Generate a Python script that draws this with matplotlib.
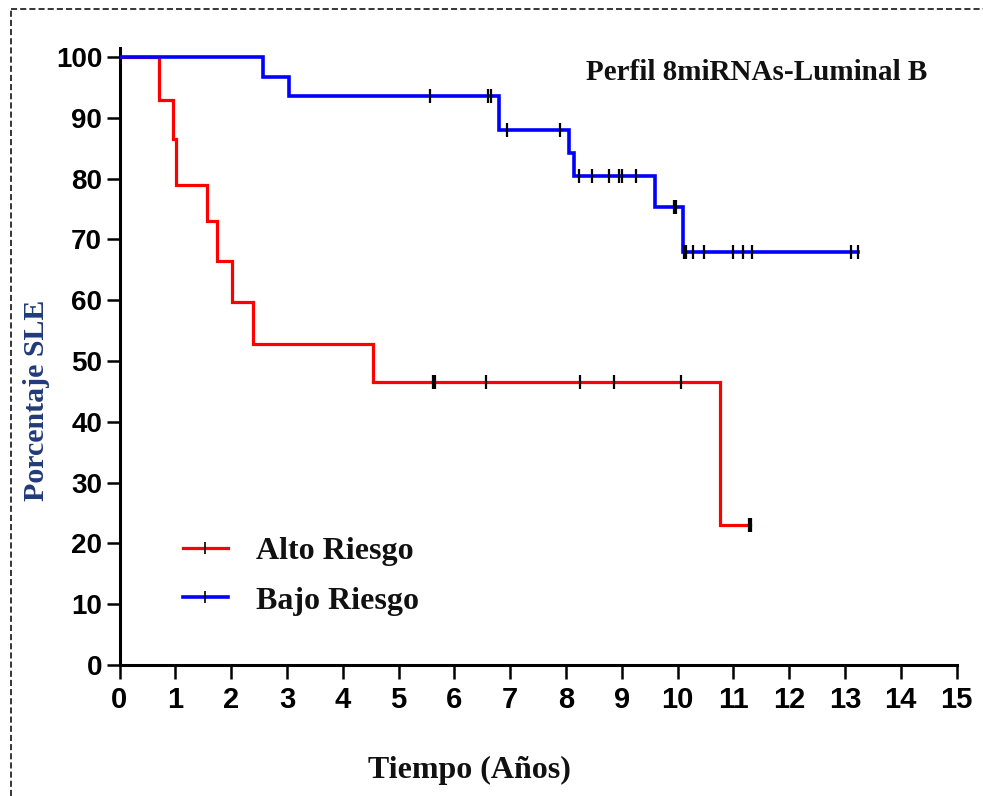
import numpy as np
import matplotlib
matplotlib.use("Agg")
import matplotlib.pyplot as plt
from matplotlib.lines import Line2D

# Kaplan-Meier curves: step times (years) and survival (%) after each step
alto_times = [0.0, 0.70, 0.95, 1.02, 1.57, 1.75, 2.01, 2.40, 4.54, 10.77]
alto_surv = [100.0, 93.0, 86.5, 79.0, 73.0, 66.5, 59.7, 52.8, 46.5, 23.0]
alto_end = 11.30
alto_censor = [5.62, 5.66, 6.56, 8.26, 8.87, 10.06, 11.28, 11.31]

bajo_times = [0.0, 2.58, 3.04, 6.81, 8.05, 8.15, 9.59, 10.10]
bajo_surv = [100.0, 96.8, 93.6, 88.0, 84.2, 80.5, 75.3, 68.0]
bajo_end = 13.24
bajo_censor = [5.56, 6.60, 6.65, 6.94, 7.90, 8.23, 8.46, 8.78, 8.96, 9.01,
               9.25, 9.93, 9.97, 10.12, 10.15, 10.27, 10.47, 11.00, 11.18,
               11.33, 13.11, 13.24]

series_labels = ["Alto Riesgo", "Bajo Riesgo"]
x_ticks = list(range(0, 16))
y_ticks = list(range(0, 101, 10))

W, H = 983, 796
fig = plt.figure(figsize=(W / 100, H / 100), dpi=100)
fig.patch.set_facecolor("white")

left_px, right_px, top_px, bottom_px = 119.5, 956.5, 48, 665
ax = fig.add_axes([left_px / W, 1 - bottom_px / H,
                   (right_px - left_px) / W, (bottom_px - top_px) / H])

tick_font = ["Liberation Sans Narrow", "Liberation Sans", "DejaVu Sans"]
serif_font = ["Liberation Serif", "DejaVu Serif"]


def axfrac(px, py):
    return ((px - left_px) / (right_px - left_px),
            (bottom_px - py) / (bottom_px - top_px))


def level_at(times, surv, t):
    i = np.searchsorted(times, t, side="right") - 1
    return surv[i]


def draw_curve(times, surv, end, censor, color, lw):
    xs = list(times) + [end]
    ys = list(surv) + [surv[-1]]
    ax.step(xs, ys, where="post", color=color, lw=lw, solid_joinstyle="miter",
            zorder=3)
    cy = [level_at(times, surv, t) for t in censor]
    ax.plot(censor, cy, ls="none", marker="|", color="black",
            markersize=10, mew=1.6, zorder=4)


draw_curve(alto_times, alto_surv, alto_end, alto_censor, "#ff0000", 2.3)
draw_curve(bajo_times, bajo_surv, bajo_end, bajo_censor, "#0000ff", 2.6)

ax.set_xlim(0, 15)
ax.set_ylim(0, 101.5)
ax.set_xticks(x_ticks)
ax.set_yticks(y_ticks)
ax.set_xticklabels([str(v) for v in x_ticks], family=tick_font,
                   fontweight="bold", fontsize=21)
ax.set_yticklabels([str(v) for v in y_ticks], family=tick_font,
                   fontweight="bold", fontsize=20)

for side in ("top", "right"):
    ax.spines[side].set_visible(False)
for side in ("left", "bottom"):
    ax.spines[side].set_linewidth(2.2)
    ax.spines[side].set_color("black")
ax.tick_params(axis="y", direction="out", length=9.5, width=1.8, pad=3)
ax.tick_params(axis="x", direction="out", length=10, width=1.8, pad=5)

ax.set_xlabel("Tiempo (Años)", family=serif_font, fontweight="bold",
              fontsize=23, color="#111111")
ax.xaxis.set_label_coords(*axfrac(469, 770))
ax.xaxis.label.set_va("center")

ax.set_ylabel("Porcentaje SLE", family=serif_font, fontweight="bold",
              fontsize=21.5, color="#213a79")
ax.yaxis.set_label_coords(*axfrac(37, 400))
ax.yaxis.label.set_va("center")

ax.text(*axfrac(757, 73), "Perfil 8miRNAs-Luminal B", transform=ax.transAxes,
        ha="center", va="center", family=serif_font, fontweight="bold",
        fontsize=21, color="#111111")

handles = [
    Line2D([], [], color="#ff0000", lw=2.3, marker="|", markersize=9,
           markeredgecolor="black", mew=1.2),
    Line2D([], [], color="#0000ff", lw=2.6, marker="|", markersize=9,
           markeredgecolor="black", mew=1.2),
]
leg = ax.legend(handles, series_labels, loc="upper left",
                bbox_to_anchor=axfrac(183, 537),
                frameon=False, borderpad=0, borderaxespad=0,
                handlelength=1.4, handletextpad=0.9, labelspacing=0.62,
                prop={"family": serif_font, "weight": "bold", "size": 23})
for t in leg.get_texts():
    t.set_color("#111111")

# dashed frame around the figure (left and top edges)
frame_kw = dict(color="black", lw=1.1, ls=(0, (4, 2)),
                transform=fig.transFigure)
fig.add_artist(Line2D([11 / W, 11 / W], [0, 1 - 9 / H], **frame_kw))
fig.add_artist(Line2D([11 / W, 1], [1 - 9 / H, 1 - 9 / H], **frame_kw))

fig.savefig("out.png", dpi=100, facecolor="white")
